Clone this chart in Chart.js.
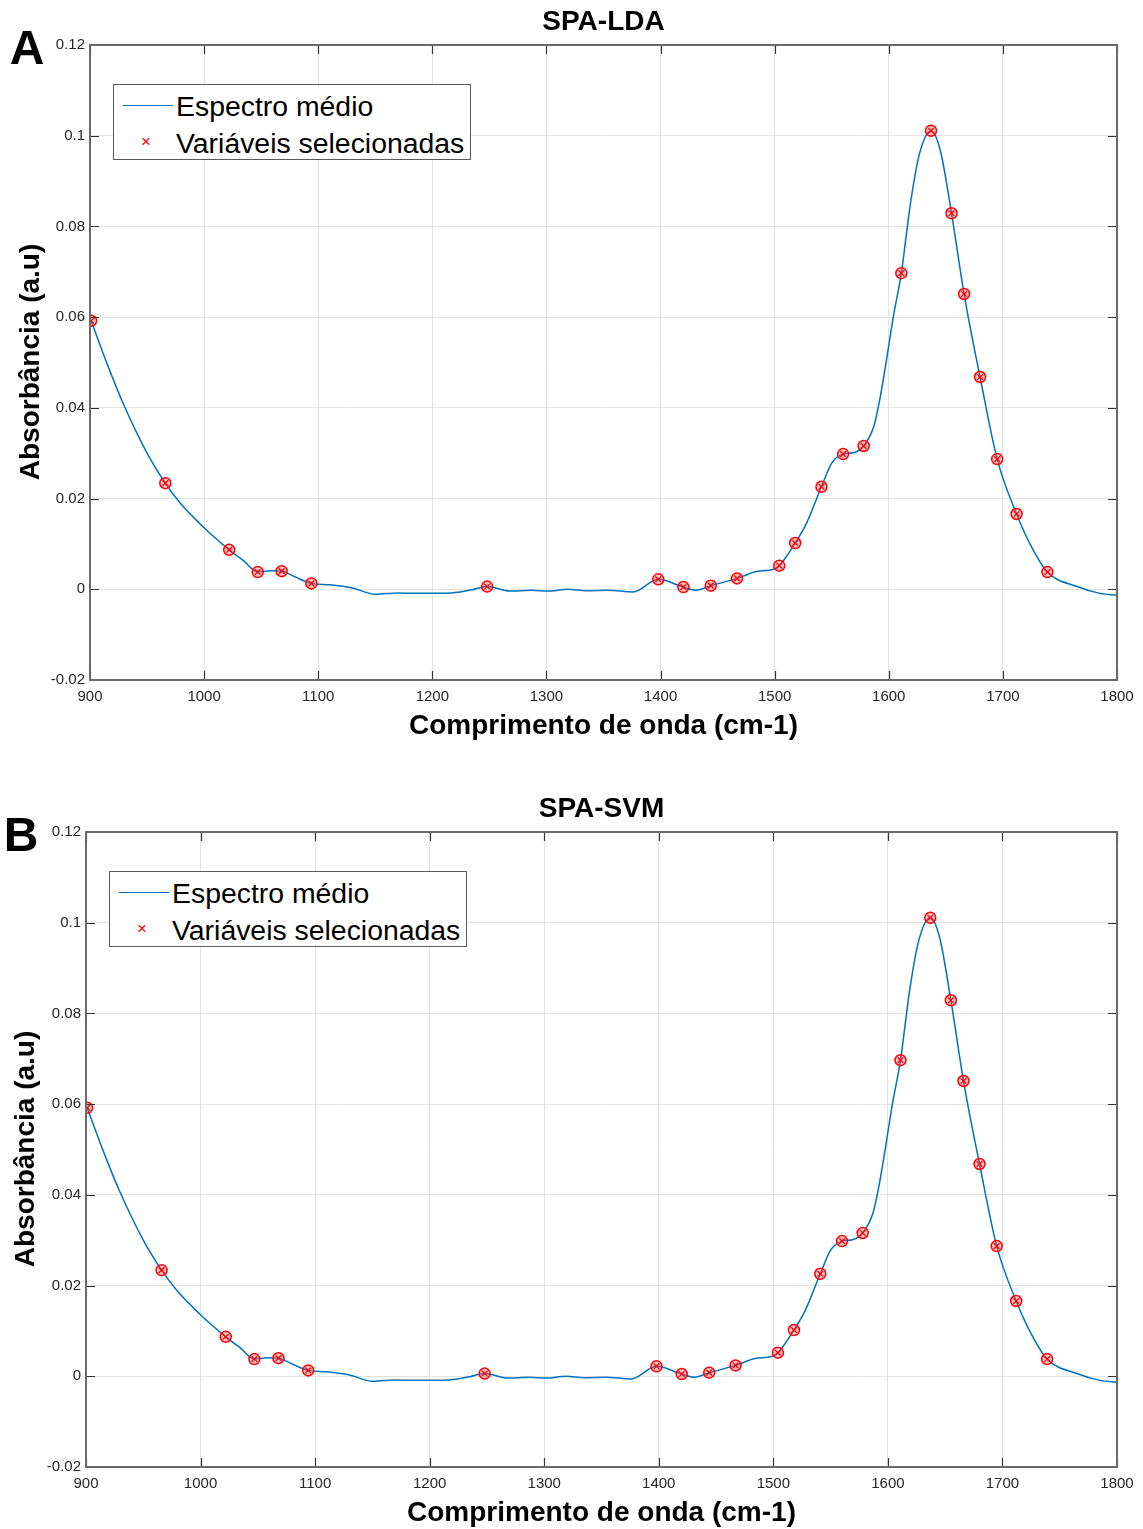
<!DOCTYPE html>
<html>
<head>
<meta charset="utf-8">
<script src="https://cdn.jsdelivr.net/npm/chart.js@4.4.0/dist/chart.umd.min.js"></script>
<style>
    body { margin: 0; background: #fff; width: 1143px; height: 1529px; position: relative; overflow: hidden;
           font-family: 'Liberation Sans', Arial, sans-serif; color: #000; }
    canvas { position: absolute; left: 0; }
    .lbl { position: absolute; white-space: nowrap; line-height: 1; transform: translate(-50%, -50%); }
    .letter { font-size: 48px; font-weight: bold; }
    .title { font-size: 28px; font-weight: bold; }
    .axt { font-size: 28px; font-weight: bold; }
    .legend { position: absolute; background: #fff; border: 1.5px solid #5a5a5a; box-sizing: border-box; }
    .legend .row { position: absolute; left: 62px; font-size: 28.4px; line-height: 1; white-space: nowrap; }
    .legend .ln { position: absolute; left: 9px; width: 50px; height: 0; border-top: 1.5px solid #0072BD; }
    .legend .mk { position: absolute; left: 27px; font-size: 17px; color: #ff0000; line-height: 1; }
</style>
</head>
<body>
<script>
// espectro médio (cm-1 / absorbância)
const specWn = [901, 915, 929, 950, 966, 979, 999, 1022, 1035, 1047, 1058, 1068, 1080, 1094,
    1110, 1130, 1150, 1170, 1190, 1217, 1235, 1248, 1268, 1287, 1301, 1319, 1335, 1354, 1376,
    1398, 1420, 1431, 1444, 1467, 1484, 1499, 1504, 1518, 1528, 1541, 1550, 1560, 1569, 1578,
    1587, 1592, 1598, 1604, 1611, 1619, 1627, 1637, 1645, 1655, 1666, 1680, 1695, 1712, 1725,
    1739, 1765, 1785, 1800];
const specAbs = [0.0592, 0.0497, 0.0410, 0.0300, 0.0234, 0.0190, 0.0138, 0.0087, 0.0062, 0.0038, 0.0041, 0.0040, 0.0027, 0.0013,
    0.0010, 0.0003, -0.0011, -0.0008, -0.0009, -0.0008, -0.0001, 0.0006, -0.0004, -0.0002, -0.0004, 0.0000, -0.0003, -0.0002, -0.0006,
    0.0022, 0.0005, -0.0002, 0.0008, 0.0024, 0.0039, 0.0044, 0.0052, 0.0102, 0.0146, 0.0226, 0.0278, 0.0298, 0.0301, 0.0316,
    0.0360, 0.0417, 0.0506, 0.0601, 0.0697, 0.0851, 0.0961, 0.1011, 0.0969, 0.0829, 0.0651, 0.0468, 0.0287, 0.0166, 0.0094,
    0.0038, 0.0006, -0.0009, -0.0013];

// variáveis selecionadas pelo SPA
const selWn = [901, 966, 1022, 1047, 1068, 1094, 1248, 1398, 1420, 1444, 1467, 1504, 1518, 1541,
    1560, 1578, 1611, 1637, 1655, 1666, 1680, 1695, 1712, 1739];

const xTicks = [900, 1000, 1100, 1200, 1300, 1400, 1500, 1600, 1700, 1800];
const yTicks = [-0.02, 0, 0.02, 0.04, 0.06, 0.08, 0.1, 0.12];

const spectrum = specWn.map((w, i) => ({ x: w, y: specAbs[i] }));
const selected = selWn.map(w => ({ x: w, y: specAbs[specWn.indexOf(w)] }));

// caixa e marcas internas (estilo MATLAB)
const boxPlugin = {
    id: 'box',
    afterDraw(chart) {
        const { ctx, chartArea: a, scales } = chart;
        ctx.save();
        ctx.strokeStyle = '#333';
        ctx.lineWidth = 1.2;
        ctx.beginPath();
        xTicks.forEach(v => {
            const px = Math.round(scales.x.getPixelForValue(v)) + 0.5;
            ctx.moveTo(px, a.bottom); ctx.lineTo(px, a.bottom - 9);
            ctx.moveTo(px, a.top); ctx.lineTo(px, a.top + 9);
        });
        yTicks.forEach(v => {
            const py = Math.round(scales.y.getPixelForValue(v)) + 0.5;
            ctx.moveTo(a.left, py); ctx.lineTo(a.left + 9, py);
            ctx.moveTo(a.right, py); ctx.lineTo(a.right - 9, py);
        });
        ctx.stroke();
        ctx.strokeStyle = '#6a6a6a';
        ctx.lineWidth = 2;
        ctx.strokeRect(a.left, a.top, a.right - a.left, a.bottom - a.top);
        ctx.restore();
    }
};

function addLabel(cls, text, x, y, rotate) {
    const d = document.createElement('div');
    d.className = 'lbl ' + cls;
    d.textContent = text;
    d.style.left = x + 'px';
    d.style.top = y + 'px';
    if (rotate) d.style.transform = 'translate(-50%, -50%) rotate(-90deg)';
    document.body.appendChild(d);
}

function addLegend(left, top) {
    const lg = document.createElement('div');
    lg.className = 'legend';
    lg.style.left = left + 'px';
    lg.style.top = top + 'px';
    lg.style.width = '358px';
    lg.style.height = '76px';
    lg.innerHTML = `
        <div class="ln" style="top:20px"></div>
        <div class="row" style="top:7px">Espectro médio</div>
        <div class="mk" style="top:48px">×</div>
        <div class="row" style="top:44px">Variáveis selecionadas</div>`;
    document.body.appendChild(lg);
}

function makePanel(p) {
    const cv = document.createElement('canvas');
    cv.style.top = p.top + 'px';
    cv.width = 1143;
    cv.height = 740;
    cv.style.width = '1143px';
    cv.style.height = '740px';
    document.body.appendChild(cv);

    const tickFont = { family: "'Liberation Sans', Arial, sans-serif", size: 15 };
    new Chart(cv.getContext('2d'), {
        type: 'scatter',
        data: {
            datasets: [
                {
                    label: 'Espectro médio',
                    data: spectrum,
                    showLine: true,
                    borderColor: '#0072BD',
                    borderWidth: 1.5,
                    pointRadius: 0,
                    cubicInterpolationMode: 'monotone',
                    order: 3
                },
                {
                    label: 'sel-circle',
                    data: selected,
                    pointStyle: 'circle',
                    pointRadius: 5.5,
                    borderColor: '#ff0000',
                    backgroundColor: 'rgba(255,80,80,0.35)',
                    borderWidth: 1.5,
                    order: 2
                },
                {
                    label: 'Variáveis selecionadas',
                    data: selected,
                    pointStyle: 'crossRot',
                    pointRadius: 4,
                    borderColor: '#ff0000',
                    borderWidth: 1.3,
                    order: 1
                }
            ]
        },
        plugins: [boxPlugin],
        options: {
            responsive: false,
            animation: false,
            layout: { padding: { left: 0, right: 26, top: 45, bottom: 0 } },
            plugins: { legend: { display: false }, tooltip: { enabled: false } },
            scales: {
                x: {
                    type: 'linear',
                    min: 900, max: 1800,
                    afterFit: s => { s.height = 60; },
                    afterBuildTicks: s => { s.ticks = xTicks.map(v => ({ value: v })); },
                    grid: { color: '#e3e3e3', lineWidth: 1, drawTicks: false },
                    border: { display: false },
                    ticks: { padding: 8, font: tickFont, color: '#262626', maxRotation: 0,
                             callback: v => String(v) }
                },
                y: {
                    min: -0.02, max: 0.12,
                    afterFit: s => { s.width = p.plotLeft; },
                    afterBuildTicks: s => { s.ticks = yTicks.map(v => ({ value: v })); },
                    grid: { color: '#e3e3e3', lineWidth: 1, drawTicks: false },
                    border: { display: false },
                    ticks: {
                        padding: 5, font: tickFont, color: '#262626',
                        callback: v => String(parseFloat(v.toFixed(2)))
                    }
                }
            }
        }
    });

    const cx = (p.plotLeft + 1117) / 2;
    addLabel('letter', p.letter, p.letterX, p.top + 48);
    addLabel('title', p.title, cx, p.top + 21);
    addLabel('axt', 'Comprimento de onda (cm-1)', cx, p.top + 725);
    addLabel('axt', 'Absorbância (a.u)', p.yTitleX, p.top + 362, true);
    addLegend(p.plotLeft + 23, p.top + 84);
}

makePanel({ top: 0, plotLeft: 90, letter: 'A', letterX: 27, title: 'SPA-LDA', yTitleX: 30 });
makePanel({ top: 787, plotLeft: 86, letter: 'B', letterX: 21, title: 'SPA-SVM', yTitleX: 25 });
</script>
</body>
</html>
